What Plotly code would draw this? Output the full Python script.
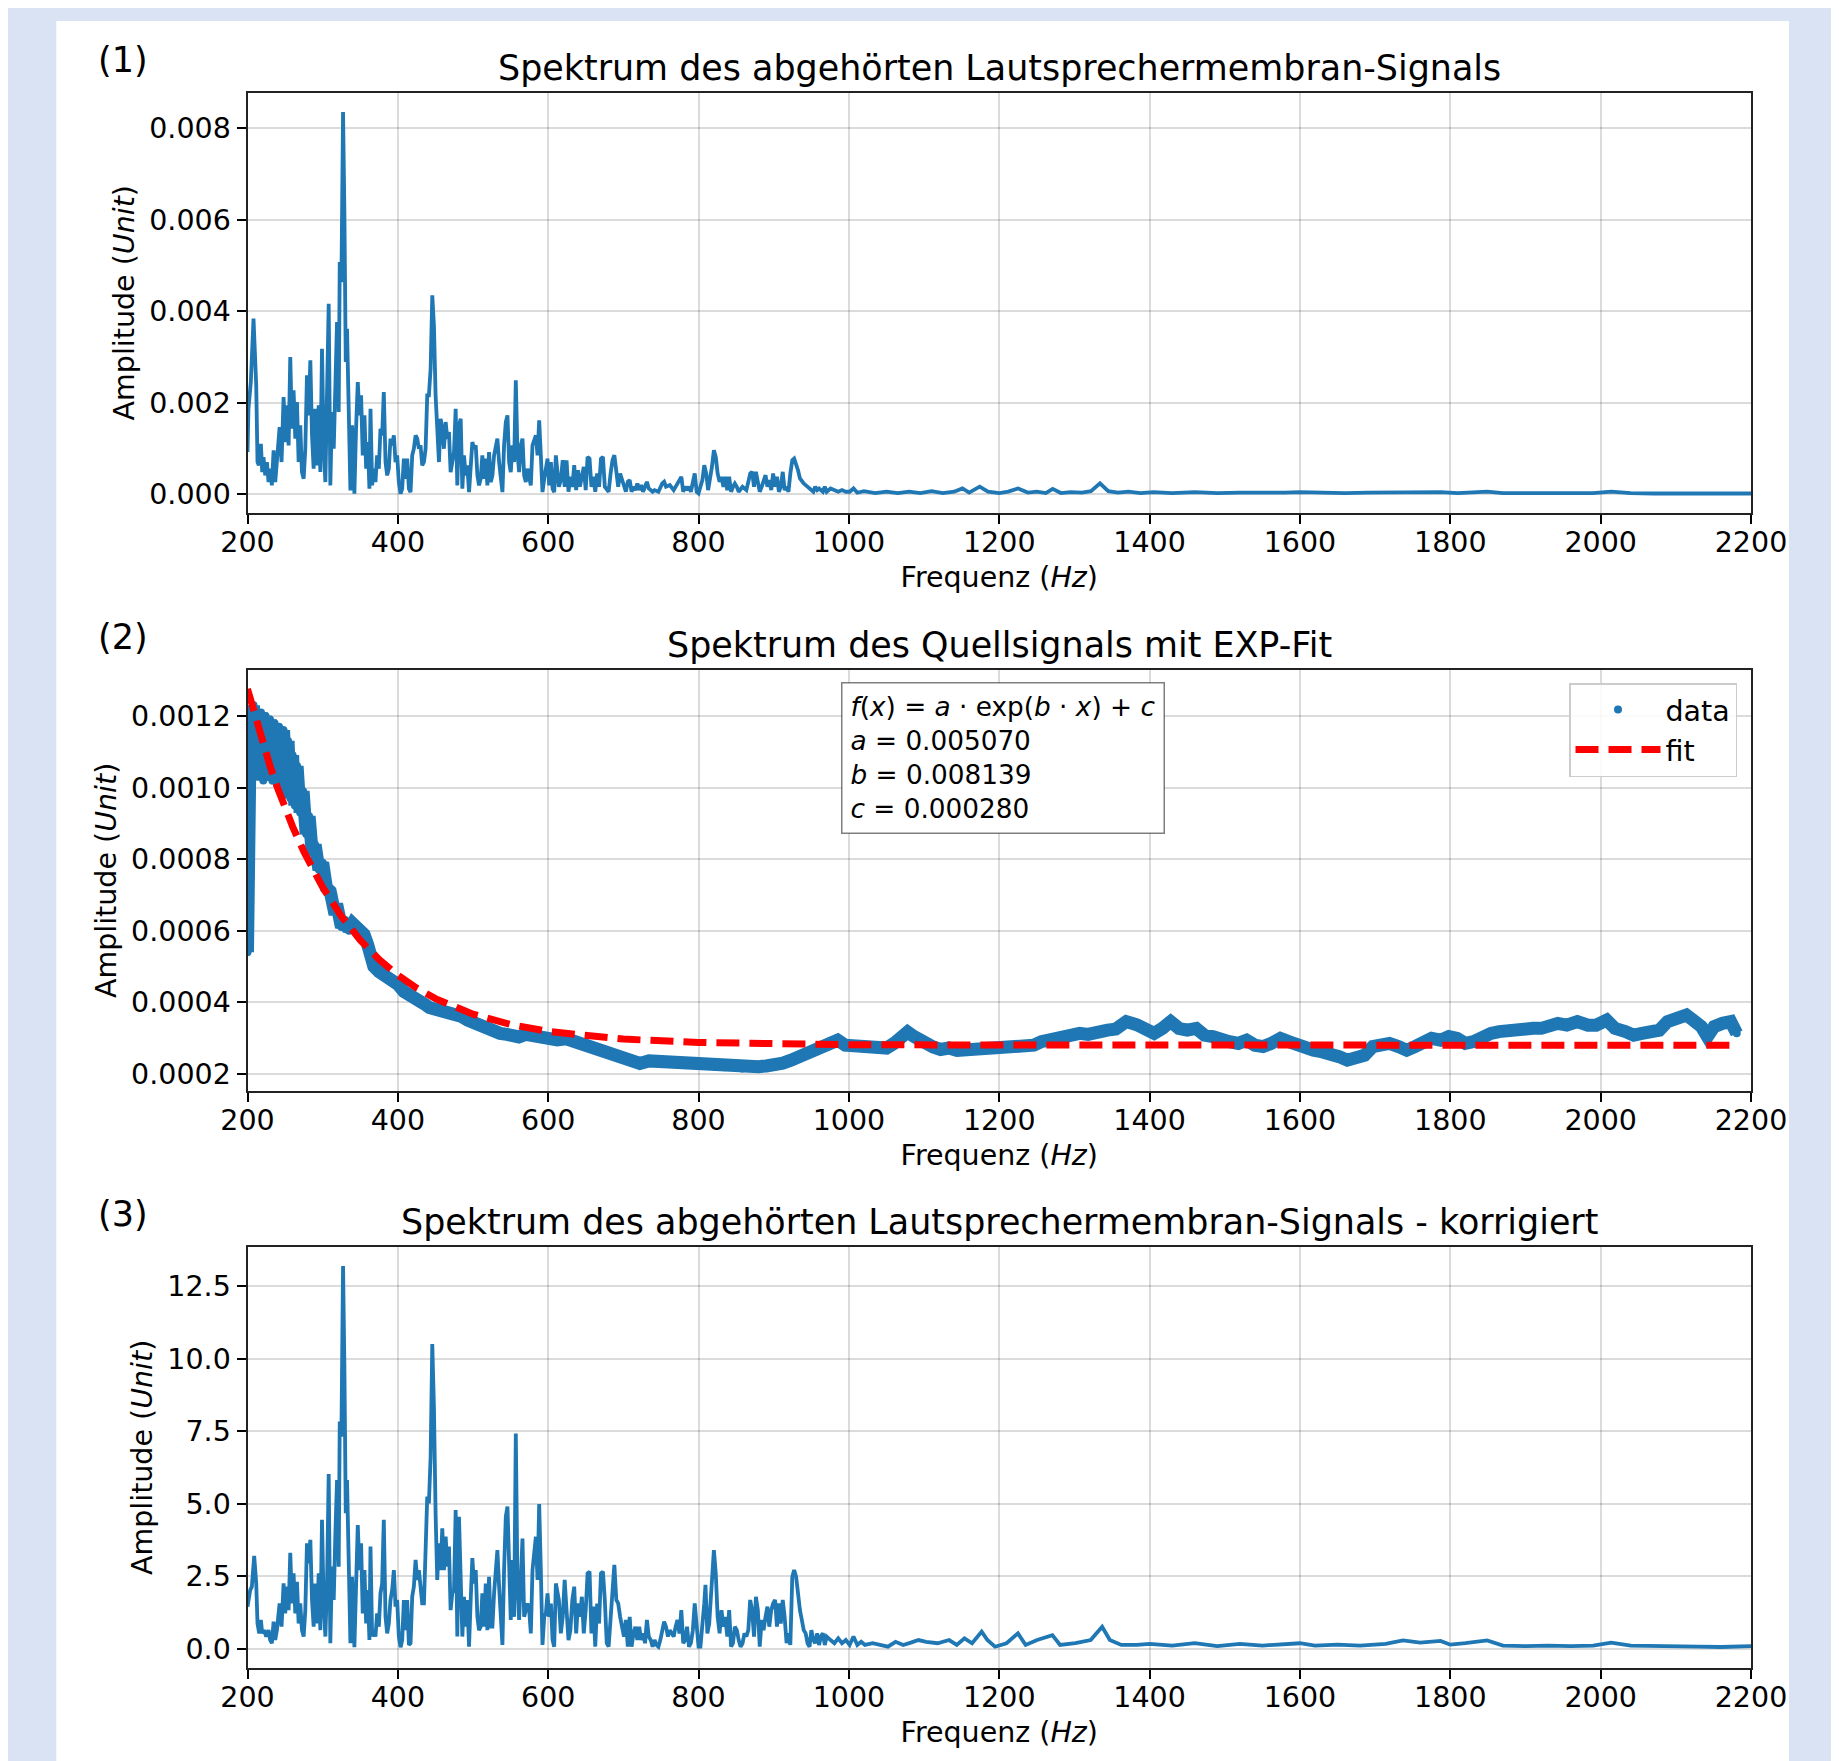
import plotly.graph_objects as go

# the page is rendered with an 8px body margin; size the figure so it fits the window exactly
OFFSET = 8
W, H = 1839 - OFFSET, 1761 - OFFSET

# ---------------- data ----------------
# (1) raw loudspeaker-membrane spectrum: (frequency Hz, amplitude)
RAW_SPECTRUM = [
    (200.0, 0.925e-3), (201.3, 1.872e-3), (204.4, 2.455e-3), (208.0, 3.840e-3), (211.6, 2.382e-3),
    (213.3, 0.707e-3), (215.1, 0.634e-3), (217.8, 1.107e-3), (219.6, 0.488e-3), (221.3, 0.816e-3),
    (223.6, 0.415e-3), (225.8, 0.707e-3), (228.0, 0.270e-3), (230.2, 0.561e-3), (232.4, 0.197e-3),
    (234.7, 0.962e-3), (236.9, 0.270e-3), (239.1, 0.780e-3), (242.7, 1.472e-3), (245.3, 0.707e-3),
    (248.0, 2.128e-3), (250.2, 1.144e-3), (252.4, 1.945e-3), (254.7, 1.071e-3), (256.9, 3.002e-3),
    (259.1, 1.435e-3), (261.3, 2.273e-3), (263.6, 1.217e-3), (265.8, 2.018e-3), (268.0, 0.707e-3),
    (270.2, 1.508e-3), (272.4, 0.488e-3), (274.7, 0.342e-3), (276.9, 0.998e-3), (279.1, 2.601e-3),
    (281.3, 1.727e-3), (283.6, 2.929e-3), (285.8, 1.290e-3), (288.0, 0.561e-3), (290.2, 1.872e-3),
    (292.4, 0.634e-3), (294.7, 1.945e-3), (296.9, 0.488e-3), (299.1, 3.184e-3), (301.3, 1.071e-3),
    (303.6, 0.270e-3), (305.8, 1.872e-3), (308.0, 4.168e-3), (310.2, 0.197e-3), (312.4, 1.800e-3),
    (314.7, 0.998e-3), (316.9, 2.601e-3), (319.1, 3.767e-3), (321.3, 1.800e-3), (322.7, 5.078e-3),
    (324.9, 4.641e-3), (327.1, 8.357e-3), (328.9, 6.171e-3), (330.7, 2.893e-3), (332.4, 3.621e-3),
    (334.7, 1.508e-3), (336.9, 0.087e-3), (339.1, 1.508e-3), (342.2, 0.015e-3), (344.4, 1.435e-3),
    (346.7, 2.455e-3), (348.9, 1.727e-3), (351.1, 2.164e-3), (353.3, 0.852e-3), (355.6, 1.727e-3),
    (357.8, 0.561e-3), (360.0, 1.144e-3), (362.2, 0.124e-3), (363.6, 1.872e-3), (365.8, 0.197e-3),
    (368.0, 0.561e-3), (370.2, 0.270e-3), (372.4, 0.852e-3), (374.7, 0.561e-3), (376.9, 1.435e-3),
    (379.1, 1.290e-3), (381.3, 2.237e-3), (383.6, 0.707e-3), (385.8, 0.415e-3), (388.0, 0.561e-3),
    (390.2, 1.217e-3), (392.4, 1.071e-3), (394.7, 1.290e-3), (396.9, 0.707e-3), (399.1, 0.852e-3),
    (401.3, 0.270e-3), (403.6, 0.015e-3), (405.8, 0.124e-3), (408.0, 0.780e-3), (410.2, 0.342e-3),
    (412.4, 0.780e-3), (414.7, 0.124e-3), (416.9, 0.051e-3), (419.1, 0.852e-3), (421.3, 0.998e-3),
    (423.6, 1.290e-3), (425.8, 1.217e-3), (428.0, 0.998e-3), (430.2, 1.071e-3), (432.4, 0.634e-3),
    (434.7, 0.707e-3), (436.9, 0.998e-3), (439.1, 2.164e-3), (441.3, 2.164e-3), (443.6, 2.747e-3),
    (445.8, 4.350e-3), (448.0, 3.694e-3), (450.2, 2.164e-3), (452.4, 1.435e-3), (454.7, 0.707e-3),
    (456.9, 1.654e-3), (459.1, 1.435e-3), (461.3, 0.998e-3), (463.6, 1.581e-3), (465.8, 1.217e-3),
    (468.0, 1.362e-3), (470.2, 0.488e-3), (472.4, 0.707e-3), (474.7, 0.925e-3), (476.9, 1.872e-3),
    (479.1, 0.197e-3), (481.3, 1.500e-3), (483.6, 1.654e-3), (485.8, 0.124e-3), (488.0, 0.852e-3),
    (490.2, 0.415e-3), (492.4, 0.634e-3), (494.7, 0.051e-3), (496.9, 0.707e-3), (499.1, 1.144e-3),
    (501.3, 0.998e-3), (503.6, 1.071e-3), (505.8, 0.415e-3), (508.0, 0.197e-3), (510.2, 0.342e-3),
    (512.4, 0.852e-3), (514.7, 0.342e-3), (516.9, 0.780e-3), (519.1, 0.197e-3), (521.3, 0.925e-3),
    (523.6, 0.270e-3), (525.8, 0.415e-3), (528.0, 0.852e-3), (530.2, 0.998e-3), (532.4, 1.217e-3),
    (534.7, 0.707e-3), (536.9, 0.270e-3), (539.1, 0.051e-3), (541.3, 1.071e-3), (543.6, 1.581e-3),
    (545.8, 1.727e-3), (548.0, 0.707e-3), (550.2, 0.488e-3), (552.4, 1.071e-3), (554.7, 0.707e-3),
    (556.9, 2.492e-3), (559.1, 0.925e-3), (561.3, 0.488e-3), (563.6, 1.071e-3), (565.8, 1.217e-3),
    (568.0, 0.415e-3), (570.2, 0.270e-3), (572.4, 0.561e-3), (574.7, 0.342e-3), (576.9, 0.197e-3),
    (579.1, 1.071e-3), (581.3, 1.217e-3), (583.6, 1.290e-3), (585.8, 0.852e-3), (588.0, 1.617e-3),
    (590.2, 0.852e-3), (592.4, 0.051e-3), (594.7, 0.342e-3), (596.9, 0.561e-3), (599.1, 0.780e-3),
    (601.3, 0.197e-3), (603.6, 0.707e-3), (605.8, 0.124e-3), (608.0, 0.051e-3), (610.2, 0.852e-3),
    (614.2, 0.167e-3), (616.8, 0.312e-3), (619.3, 0.746e-3), (621.9, 0.167e-3), (624.4, 0.746e-3),
    (627.0, 0.058e-3), (629.5, 0.384e-3), (632.1, 0.167e-3), (634.6, 0.638e-3), (637.2, 0.094e-3),
    (639.7, 0.529e-3), (642.2, 0.167e-3), (644.8, 0.457e-3), (647.3, 0.601e-3), (649.9, 0.094e-3),
    (652.4, 0.819e-3), (655.0, 0.783e-3), (657.5, 0.167e-3), (660.1, 0.384e-3), (662.6, 0.058e-3),
    (665.1, 0.457e-3), (667.7, 0.167e-3), (670.2, 0.783e-3), (672.8, 0.819e-3), (675.3, 0.167e-3),
    (677.9, 0.094e-3), (680.4, 0.058e-3), (683.0, 0.457e-3), (685.5, 0.746e-3), (688.0, 0.855e-3),
    (690.6, 0.457e-3), (693.1, 0.167e-3), (695.7, 0.457e-3), (698.2, 0.312e-3), (700.8, 0.167e-3),
    (703.3, 0.058e-3), (705.9, 0.275e-3), (708.4, 0.312e-3), (710.9, 0.058e-3), (713.5, 0.167e-3),
    (716.0, 0.094e-3), (718.6, 0.239e-3), (721.1, 0.094e-3), (723.7, 0.203e-3), (726.2, 0.058e-3),
    (728.8, 0.203e-3), (731.3, 0.275e-3), (733.8, 0.130e-3), (736.4, 0.094e-3), (738.9, 0.058e-3),
    (741.5, 0.094e-3), (746.6, 0.058e-3), (751.7, 0.239e-3), (754.2, 0.275e-3), (756.7, 0.167e-3),
    (761.8, 0.203e-3), (766.9, 0.094e-3), (769.5, 0.167e-3), (774.6, 0.348e-3), (777.1, 0.384e-3),
    (779.6, 0.058e-3), (782.2, 0.167e-3), (784.7, 0.094e-3), (787.3, 0.167e-3), (789.8, 0.058e-3),
    (792.4, 0.312e-3), (794.9, 0.457e-3), (797.5, 0.058e-3), (800.0, 0.022e-3), (802.5, 0.167e-3),
    (805.1, 0.312e-3), (807.6, 0.638e-3), (810.2, 0.457e-3), (812.7, 0.094e-3), (815.3, 0.312e-3),
    (817.8, 0.601e-3), (820.4, 0.964e-3), (822.9, 0.819e-3), (825.4, 0.457e-3), (828.0, 0.275e-3),
    (830.5, 0.384e-3), (833.1, 0.167e-3), (835.6, 0.384e-3), (838.2, 0.094e-3), (840.7, 0.384e-3),
    (843.3, 0.058e-3), (845.8, 0.167e-3), (848.3, 0.239e-3), (850.9, 0.167e-3), (853.4, 0.058e-3),
    (858.5, 0.167e-3), (863.6, 0.094e-3), (866.2, 0.275e-3), (868.7, 0.457e-3), (871.2, 0.493e-3),
    (873.8, 0.167e-3), (876.3, 0.493e-3), (878.9, 0.312e-3), (881.4, 0.058e-3), (884.0, 0.167e-3),
    (889.1, 0.420e-3), (891.6, 0.167e-3), (894.1, 0.312e-3), (896.7, 0.094e-3), (899.2, 0.457e-3),
    (901.8, 0.167e-3), (904.3, 0.384e-3), (906.9, 0.058e-3), (909.4, 0.167e-3), (912.0, 0.493e-3),
    (914.5, 0.094e-3), (917.1, 0.167e-3), (919.6, 0.058e-3), (922.1, 0.457e-3), (924.7, 0.746e-3),
    (927.2, 0.783e-3), (929.8, 0.674e-3), (932.3, 0.529e-3), (934.9, 0.348e-3), (937.4, 0.275e-3),
    (939.9, 0.239e-3), (942.5, 0.203e-3), (945.0, 0.167e-3), (950.1, 0.094e-3), (952.7, 0.058e-3),
    (955.2, 0.167e-3), (957.8, 0.094e-3), (960.3, 0.130e-3), (965.4, 0.058e-3), (967.9, 0.167e-3),
    (970.5, 0.058e-3), (975.6, 0.130e-3), (980.7, 0.094e-3), (985.8, 0.058e-3), (990.8, 0.094e-3),
    (995.9, 0.058e-3), (1001.0, 0.058e-3), (1006.1, 0.130e-3), (1011.2, 0.036e-3), (1020, 0.07e-3),
    (1035, 0.03e-3), (1050, 0.06e-3), (1065, 0.03e-3), (1080, 0.06e-3), (1095, 0.03e-3),
    (1110, 0.07e-3), (1125, 0.03e-3), (1140, 0.06e-3), (1151, 0.13e-3), (1160, 0.04e-3),
    (1174, 0.17e-3), (1185, 0.06e-3), (1200, 0.03e-3), (1212, 0.06e-3), (1225, 0.13e-3),
    (1238, 0.04e-3), (1250, 0.06e-3), (1262, 0.03e-3), (1271, 0.12e-3), (1282, 0.03e-3),
    (1295, 0.05e-3), (1310, 0.04e-3), (1322, 0.07e-3), (1334, 0.24e-3), (1345, 0.07e-3),
    (1358, 0.04e-3), (1372, 0.06e-3), (1388, 0.03e-3), (1405, 0.05e-3), (1430, 0.03e-3),
    (1460, 0.05e-3), (1490, 0.03e-3), (1520, 0.04e-3), (1550, 0.03e-3), (1580, 0.04e-3),
    (1600, 0.05e-3), (1630, 0.03e-3), (1660, 0.03e-3), (1690, 0.04e-3), (1714, 0.04e-3),
    (1737, 0.06e-3), (1760, 0.04e-3), (1787, 0.05e-3), (1810, 0.03e-3), (1849, 0.06e-3),
    (1870, 0.03e-3), (1900, 0.03e-3), (1930, 0.03e-3), (1960, 0.02e-3), (1990, 0.03e-3),
    (2014, 0.06e-3), (2040, 0.03e-3), (2070, 0.02e-3), (2100, 0.02e-3), (2130, 0.02e-3),
    (2160, 0.02e-3), (2200, 0.02e-3),
]

# (2) source-signal spectrum (data points)
SOURCE_SPECTRUM = [
    (200, 5.4e-4), (201, 8.5e-4), (202, 11.0e-4), (204, 12.2e-4), (206, 10.4e-4), (208, 12.3e-4),
    (210, 10.3e-4), (212, 12.0e-4), (215, 10.4e-4), (218, 12.1e-4), (221, 10.2e-4), (224, 12.0e-4),
    (227, 10.3e-4), (230, 11.9e-4), (233, 10.2e-4), (236, 11.8e-4), (239, 10.1e-4), (242, 11.7e-4),
    (245, 10.0e-4), (248, 11.6e-4), (251, 9.9e-4), (254, 11.3e-4), (257, 9.7e-4), (260, 10.9e-4),
    (263, 9.5e-4), (266, 10.6e-4), (270, 9.3e-4), (274, 9.9e-4), (278, 8.7e-4), (282, 9.2e-4),
    (286, 8.2e-4), (290, 8.4e-4), (295, 7.7e-4), (300, 7.9e-4), (305, 7.2e-4), (310, 7.1e-4),
    (315, 6.6e-4), (320, 6.6e-4), (325, 6.1e-4), (330, 6.3e-4), (335, 6.0e-4), (340, 6.2e-4),
    (345, 6.1e-4), (350, 6.0e-4), (355, 5.9e-4), (360, 5.6e-4), (364, 5.1e-4), (368, 5.0e-4),
    (375, 4.85e-4), (383, 4.75e-4), (392, 4.6e-4), (400, 4.5e-4), (408, 4.3e-4), (417, 4.15e-4),
    (425, 4.05e-4), (434, 3.97e-4), (442, 3.85e-4), (451, 3.8e-4), (460, 3.72e-4), (468, 3.75e-4),
    (476, 3.68e-4), (485, 3.6e-4), (493, 3.5e-4), (502, 3.42e-4), (510, 3.3e-4), (518, 3.25e-4),
    (527, 3.2e-4), (536, 3.13e-4), (545, 3.1e-4), (553, 3.05e-4), (561, 3.03e-4), (570, 3.1e-4),
    (580, 3.05e-4), (590, 3.0e-4), (600, 3.03e-4), (612, 2.95e-4), (624, 2.98e-4), (635, 2.9e-4),
    (646, 2.85e-4), (657, 2.8e-4), (668, 2.7e-4), (680, 2.57e-4), (690, 2.48e-4), (700, 2.42e-4),
    (711, 2.35e-4), (722, 2.29e-4), (734, 2.36e-4), (747, 2.34e-4), (760, 2.31e-4), (772, 2.28e-4),
    (785, 2.3e-4), (798, 2.24e-4), (810, 2.22e-4), (822, 2.2e-4), (834, 2.18e-4), (846, 2.2e-4),
    (858, 2.15e-4), (870, 2.2e-4), (880, 2.2e-4), (890, 2.22e-4), (900, 2.24e-4), (912, 2.3e-4),
    (923, 2.38e-4), (934, 2.48e-4), (945, 2.58e-4), (956, 2.67e-4), (968, 2.75e-4), (977, 2.85e-4),
    (985, 2.94e-4), (995, 2.8e-4), (1003, 2.78e-4), (1010, 2.75e-4), (1020, 2.78e-4), (1030, 2.72e-4),
    (1040, 2.76e-4), (1050, 2.72e-4), (1060, 2.85e-4), (1070, 3.0e-4), (1078, 3.17e-4), (1086, 3.05e-4),
    (1095, 2.92e-4), (1104, 2.8e-4), (1112, 2.75e-4), (1122, 2.68e-4), (1133, 2.72e-4), (1144, 2.65e-4),
    (1154, 2.66e-4), (1165, 2.72e-4), (1175, 2.68e-4), (1185, 2.75e-4), (1195, 2.7e-4), (1205, 2.71e-4),
    (1215, 2.78e-4), (1225, 2.74e-4), (1235, 2.82e-4), (1246, 2.8e-4), (1256, 2.9e-4), (1266, 2.95e-4),
    (1276, 2.92e-4), (1287, 3.02e-4), (1297, 3.05e-4), (1307, 3.13e-4), (1318, 3.1e-4), (1333, 3.22e-4),
    (1344, 3.22e-4), (1355, 3.25e-4), (1369, 3.46e-4), (1383, 3.37e-4), (1394, 3.27e-4), (1406, 3.13e-4),
    (1417, 3.27e-4), (1428, 3.46e-4), (1439, 3.27e-4), (1450, 3.22e-4), (1462, 3.27e-4), (1473, 3.08e-4),
    (1484, 3.04e-4), (1495, 2.94e-4), (1506, 2.9e-4), (1518, 2.85e-4), (1529, 2.94e-4), (1540, 2.8e-4),
    (1551, 2.76e-4), (1562, 2.85e-4), (1574, 2.99e-4), (1585, 2.9e-4), (1596, 2.8e-4), (1607, 2.71e-4),
    (1618, 2.66e-4), (1630, 2.61e-4), (1641, 2.57e-4), (1652, 2.48e-4), (1663, 2.38e-4), (1675, 2.43e-4),
    (1686, 2.52e-4), (1697, 2.76e-4), (1708, 2.8e-4), (1719, 2.85e-4), (1731, 2.76e-4), (1742, 2.66e-4),
    (1753, 2.76e-4), (1764, 2.9e-4), (1775, 2.99e-4), (1787, 2.94e-4), (1798, 3.04e-4), (1809, 2.99e-4),
    (1820, 2.85e-4), (1831, 2.9e-4), (1843, 3.04e-4), (1854, 3.13e-4), (1865, 3.18e-4), (1876, 3.22e-4),
    (1887, 3.22e-4), (1899, 3.22e-4), (1910, 3.27e-4), (1921, 3.27e-4), (1932, 3.34e-4), (1943, 3.41e-4),
    (1955, 3.36e-4), (1969, 3.46e-4), (1983, 3.36e-4), (1994, 3.36e-4), (2008, 3.5e-4), (2019, 3.27e-4),
    (2033, 3.18e-4), (2044, 3.08e-4), (2055, 3.13e-4), (2067, 3.13e-4), (2078, 3.22e-4), (2089, 3.46e-4),
    (2100, 3.5e-4), (2114, 3.64e-4), (2123, 3.5e-4), (2134, 3.32e-4), (2142, 3.04e-4), (2151, 3.32e-4),
    (2162, 3.41e-4), (2173, 3.46e-4), (2181, 3.13e-4),
]

# (2) exponential fit curve
FIT_CURVE = [
    (200, 12.756e-4), (210, 11.978e-4), (220, 11.261e-4), (230, 10.600e-4), (240, 9.990e-4),
    (250, 9.428e-4), (260, 8.910e-4), (275, 8.208e-4), (290, 7.586e-4), (300, 7.212e-4),
    (325, 6.399e-4), (350, 5.737e-4), (375, 5.196e-4), (400, 4.755e-4), (425, 4.395e-4),
    (450, 4.101e-4), (500, 3.666e-4), (550, 3.377e-4), (600, 3.184e-4), (650, 3.056e-4),
    (700, 2.970e-4), (800, 2.875e-4), (900, 2.833e-4), (1000, 2.815e-4), (1200, 2.803e-4),
    (1400, 2.800e-4), (1600, 2.800e-4), (1800, 2.800e-4), (2000, 2.800e-4), (2181, 2.800e-4),
]
FIT_PARAMS = [("a", "0.005070"), ("b", "0.008139"), ("c", "0.000280")]

# (3) corrected spectrum
CORRECTED_SPECTRUM = [
    (200.0, 1.46), (203.6, 2.03), (205.8, 2.15), (208.9, 3.21), (211.6, 2.26), (213.3, 0.88),
    (215.6, 0.54), (217.8, 1.00), (219.6, 0.54), (222.2, 0.65), (224.9, 0.43), (228.0, 0.65),
    (230.2, 0.31), (232.4, 0.20), (234.7, 0.94), (236.9, 0.31), (239.1, 0.65), (242.7, 1.57),
    (245.3, 0.77), (248.0, 2.26), (250.2, 1.23), (252.4, 2.15), (254.7, 1.34), (256.9, 3.32),
    (259.1, 1.57), (261.3, 2.61), (263.6, 1.23), (265.8, 2.32), (268.0, 0.88), (270.2, 1.57),
    (272.4, 0.65), (274.7, 0.43), (276.9, 1.34), (279.1, 3.64), (281.3, 2.95), (283.6, 3.76),
    (285.8, 1.69), (288.0, 0.77), (290.2, 2.26), (292.4, 0.88), (294.7, 2.61), (296.9, 0.65),
    (299.1, 4.45), (301.3, 1.57), (303.6, 0.43), (305.8, 2.26), (308.0, 6.03), (310.2, 0.20),
    (312.4, 2.84), (314.7, 1.69), (316.9, 3.99), (319.1, 5.82), (321.3, 2.84), (322.7, 7.84),
    (324.9, 7.32), (327.1, 13.20), (328.9, 9.73), (330.7, 4.68), (332.4, 5.82), (334.7, 2.26),
    (336.9, 0.20), (339.1, 2.49), (342.2, 0.06), (344.4, 2.15), (346.7, 4.27), (348.9, 2.72),
    (351.1, 3.64), (353.3, 1.23), (355.6, 2.72), (357.8, 0.88), (360.0, 2.03), (362.2, 0.31),
    (363.6, 3.53), (365.8, 0.43), (368.0, 0.65), (370.2, 0.43), (372.4, 1.23), (374.7, 0.77),
    (376.9, 1.92), (379.1, 2.26), (381.3, 4.45), (383.6, 1.11), (385.8, 0.54), (388.0, 0.88),
    (390.2, 1.69), (392.4, 2.03), (394.7, 2.72), (396.9, 1.46), (399.1, 1.69), (401.3, 0.43),
    (403.6, 0.06), (405.8, 0.31), (408.0, 1.69), (410.2, 0.65), (412.4, 1.69), (414.7, 0.14),
    (416.9, 0.20), (419.1, 1.80), (421.3, 2.15), (423.6, 3.07), (425.8, 2.38), (428.0, 2.72),
    (430.2, 2.03), (432.4, 1.57), (434.7, 1.57), (436.9, 3.64), (439.1, 5.25), (441.3, 5.02),
    (443.6, 6.63), (445.8, 10.51), (448.0, 8.35), (450.2, 4.68), (452.4, 2.38), (454.7, 3.64),
    (456.9, 2.72), (459.1, 4.16), (461.3, 2.72), (463.6, 3.87), (465.8, 2.84), (468.0, 3.53),
    (470.2, 1.34), (472.4, 1.92), (474.7, 2.03), (476.9, 4.79), (479.1, 0.43), (481.3, 4.56),
    (483.6, 2.72), (485.8, 0.43), (488.0, 1.80), (490.2, 0.77), (492.4, 1.69), (494.7, 0.08),
    (496.9, 1.69), (499.1, 3.13), (501.3, 2.26), (503.6, 2.72), (505.8, 1.11), (508.0, 0.65),
    (510.2, 0.77), (512.4, 1.92), (514.7, 0.77), (516.9, 2.26), (519.1, 0.65), (521.3, 2.49),
    (523.6, 0.77), (525.8, 0.77), (528.0, 1.92), (530.2, 2.72), (532.4, 3.41), (534.7, 2.15),
    (536.9, 0.88), (539.1, 0.14), (541.3, 2.72), (543.6, 4.56), (545.8, 4.91), (548.0, 2.26),
    (550.2, 1.00), (552.4, 3.07), (554.7, 1.11), (556.9, 7.43), (559.1, 2.26), (561.3, 1.00),
    (563.6, 2.72), (565.8, 3.81), (568.0, 1.11), (570.2, 1.34), (572.4, 1.57), (574.7, 1.34),
    (576.9, 0.54), (579.1, 2.72), (581.3, 3.18), (583.6, 3.87), (585.8, 2.38), (588.0, 5.00),
    (590.2, 2.72), (592.4, 0.14), (594.7, 1.11), (596.9, 1.23), (599.1, 1.92), (601.3, 1.11),
    (603.6, 1.57), (605.8, 0.31), (608.0, 0.08), (610.2, 2.26), (614.2, 1.69), (616.8, 0.54),
    (619.3, 1.11), (621.9, 2.38), (624.4, 1.34), (627.0, 0.31), (629.5, 0.65), (632.1, 1.69),
    (634.6, 2.15), (637.2, 0.54), (639.7, 1.57), (642.2, 1.11), (644.8, 1.80), (647.3, 0.54),
    (649.9, 1.34), (652.4, 2.61), (655.0, 2.67), (657.5, 0.54), (660.1, 1.46), (662.6, 0.08),
    (665.1, 1.57), (667.7, 0.88), (670.2, 2.61), (672.8, 2.67), (675.3, 1.69), (677.9, 0.20),
    (680.4, 0.08), (683.0, 1.11), (685.5, 1.80), (688.0, 2.90), (690.6, 1.69), (693.1, 1.57),
    (695.7, 1.11), (698.2, 0.77), (700.8, 0.43), (703.3, 1.00), (705.9, 0.08), (708.4, 1.11),
    (710.9, 0.08), (713.5, 0.54), (716.0, 0.77), (718.6, 0.31), (721.1, 0.77), (723.7, 0.31),
    (726.2, 0.54), (728.8, 0.20), (731.3, 1.00), (733.8, 0.43), (736.4, 0.31), (738.9, 0.08),
    (741.5, 0.31), (744.0, 0.14), (746.6, 0.08), (749.1, 0.31), (751.7, 0.65), (754.2, 0.94),
    (756.7, 0.77), (759.3, 0.43), (761.8, 0.65), (764.4, 0.54), (766.9, 0.43), (769.5, 0.77),
    (772.0, 1.00), (774.6, 0.54), (777.1, 1.34), (779.6, 0.20), (782.2, 0.31), (784.7, 0.77),
    (787.3, 0.08), (789.8, 0.20), (792.4, 0.65), (794.9, 1.57), (797.5, 0.88), (800.0, 0.08),
    (802.5, 0.08), (805.1, 0.77), (807.6, 1.57), (809.2, 2.21), (811.7, 0.54), (814.2, 0.88),
    (817.8, 2.15), (820.4, 3.41), (822.9, 2.61), (825.4, 1.11), (828.0, 0.54), (830.5, 1.34),
    (833.1, 0.77), (835.6, 1.11), (838.2, 0.43), (840.7, 1.34), (843.3, 0.08), (845.8, 0.20),
    (848.3, 0.77), (850.9, 0.65), (853.4, 0.31), (855.9, 0.08), (858.5, 0.20), (861.1, 0.54),
    (863.6, 0.43), (866.2, 0.65), (868.7, 1.69), (871.2, 1.34), (873.8, 0.43), (876.3, 1.80),
    (878.9, 1.34), (881.4, 0.08), (884.0, 1.00), (886.5, 0.65), (889.1, 1.11), (891.6, 1.46),
    (894.1, 0.77), (896.7, 1.34), (899.2, 1.57), (901.8, 1.69), (904.3, 0.77), (906.9, 1.57),
    (909.4, 0.88), (912.0, 1.69), (914.5, 1.11), (917.1, 0.20), (919.6, 0.54), (922.1, 0.14),
    (924.7, 2.49), (927.2, 2.72), (929.8, 2.49), (932.3, 1.80), (934.9, 1.34), (937.4, 1.00),
    (939.9, 0.65), (942.5, 0.54), (945.0, 0.20), (947.6, 0.08), (950.1, 0.65), (952.7, 0.31),
    (955.2, 0.20), (957.8, 0.54), (960.3, 0.14), (962.8, 0.43), (965.4, 0.54), (967.9, 0.14),
    (970.5, 0.43), (975.6, 0.31), (980.7, 0.20), (985.8, 0.37), (990.8, 0.20), (995.9, 0.31),
    (1001.0, 0.14), (1006.1, 0.43), (1011.2, 0.14), (1016.3, 0.25), (1021.4, 0.14), (1031.6, 0.20),
    (1041.7, 0.14), (1051.9, 0.08), (1062.1, 0.25), (1072.3, 0.14), (1082.4, 0.22), (1092.6, 0.31),
    (1102.8, 0.25), (1118.1, 0.20), (1133.3, 0.31), (1143.5, 0.14), (1153.7, 0.37), (1163.9, 0.20),
    (1176.6, 0.60), (1184.2, 0.31), (1194.4, 0.08), (1209.7, 0.20), (1224.9, 0.54), (1235.1, 0.14),
    (1250.4, 0.31), (1270.7, 0.48), (1280.9, 0.14), (1301.3, 0.20), (1321.6, 0.31), (1336.9, 0.77),
    (1347.1, 0.31), (1362.3, 0.14), (1382.7, 0.14), (1400, 0.18), (1430, 0.12), (1460, 0.20),
    (1490, 0.10), (1520, 0.18), (1550, 0.12), (1580, 0.16), (1600, 0.20), (1620, 0.12),
    (1650, 0.15), (1680, 0.12), (1714, 0.18), (1737, 0.30), (1760, 0.22), (1787, 0.28),
    (1800, 0.15), (1820, 0.20), (1849, 0.30), (1870, 0.12), (1900, 0.10), (1930, 0.12),
    (1960, 0.10), (1990, 0.12), (2014, 0.22), (2040, 0.12), (2070, 0.10), (2100, 0.07),
    (2130, 0.08), (2160, 0.07), (2200, 0.10),
]

FREQ_TICKS = [200, 400, 600, 800, 1000, 1200, 1400, 1600, 1800, 2000, 2200]
RAW_TICKS = [0.0, 0.002, 0.004, 0.006, 0.008]
RAW_TICK_TEXT = ["0.000", "0.002", "0.004", "0.006", "0.008"]
SOURCE_TICKS = [0.0002, 0.0004, 0.0006, 0.0008, 0.0010, 0.0012]
SOURCE_TICK_TEXT = ["0.0002", "0.0004", "0.0006", "0.0008", "0.0010", "0.0012"]
CORR_TICKS = [0.0, 2.5, 5.0, 7.5, 10.0, 12.5]
CORR_TICK_TEXT = ["0.0", "2.5", "5.0", "7.5", "10.0", "12.5"]

TITLES = [
    "Spektrum des abgehörten Lautsprechermembran-Signals",
    "Spektrum des Quellsignals mit EXP-Fit",
    "Spektrum des abgehörten Lautsprechermembran-Signals - korrigiert",
]
PANEL_LABELS = ["(1)", "(2)", "(3)"]
X_LABEL = "Frequenz (<i>Hz</i>)"
Y_LABEL = "Amplitude (<i>Unit</i>)"

# ---------------- styling ----------------
FONT = "DejaVu Sans"
BLUE = "#1f77b4"
TICK_SIZE = 28.5
TITLE_SIZE = 34.9


def px_x(x):
    """screen pixel (in the 1839-wide window) -> paper fraction"""
    return (x - OFFSET) / W


def px_y(y):
    return 1 - (y - OFFSET) / H


X_DOMAIN = [px_x(247.5), px_x(1751)]
PANELS = [  # top, bottom (screen pixels) of each plot area
    (92.7, 512.8),
    (670.0, 1090.8),
    (1246.8, 1667.9),
]
Y_RANGES = [[-0.000402, 0.008778], [0.0001525, 0.0013286], [-0.65, 13.86]]
Y_TICKS = [(RAW_TICKS, RAW_TICK_TEXT), (SOURCE_TICKS, SOURCE_TICK_TEXT), (CORR_TICKS, CORR_TICK_TEXT)]

fig = go.Figure()

xs = [p[0] for p in RAW_SPECTRUM]
ys = [p[1] for p in RAW_SPECTRUM]
fig.add_trace(go.Scatter(x=xs, y=ys, mode="lines", line=dict(color=BLUE, width=3.8),
                         showlegend=False, xaxis="x", yaxis="y"))

xs = [p[0] for p in SOURCE_SPECTRUM]
ys = [p[1] for p in SOURCE_SPECTRUM]
fig.add_trace(go.Scatter(x=xs, y=ys, mode="lines", line=dict(color=BLUE, width=13),
                         showlegend=False, hoverinfo="skip", xaxis="x2", yaxis="y2"))
fig.add_trace(go.Scatter(x=xs, y=ys, mode="markers", marker=dict(color=BLUE, size=8),
                         name="data", xaxis="x2", yaxis="y2"))
fx = [p[0] for p in FIT_CURVE]
fy = [p[1] for p in FIT_CURVE]
fig.add_trace(go.Scatter(x=fx, y=fy, mode="lines", line=dict(color="red", width=7, dash="23px,10px"),
                         name="fit", xaxis="x2", yaxis="y2"))

xs = [p[0] for p in CORRECTED_SPECTRUM]
ys = [p[1] for p in CORRECTED_SPECTRUM]
fig.add_trace(go.Scatter(x=xs, y=ys, mode="lines", line=dict(color=BLUE, width=3.8),
                         showlegend=False, xaxis="x3", yaxis="y3"))

layout = dict(
    width=W, height=H,
    margin=dict(l=0, r=0, t=0, b=0, pad=0, autoexpand=False),
    paper_bgcolor="#dae3f3",
    plot_bgcolor="white",
    font=dict(family=FONT, size=TICK_SIZE, color="black"),
    showlegend=True,
    legend=dict(x=px_x(1737), y=px_y(683), xanchor="right", yanchor="top",
                bgcolor="rgba(255,255,255,0.85)", bordercolor="#cccccc", borderwidth=1.5,
                font=dict(family=FONT, size=TICK_SIZE), itemwidth=85, tracegroupgap=0),
    shapes=[dict(type="rect", xref="paper", yref="paper", x0=px_x(56.3), x1=px_x(1789),
                 y0=0, y1=px_y(21), fillcolor="white", line=dict(width=0), layer="below")],
)

annotations = []
for i in range(3):
    top, bot = PANELS[i]
    sfx = "" if i == 0 else str(i + 1)
    layout["xaxis" + sfx] = dict(
        domain=X_DOMAIN, anchor="y" + sfx, range=[200, 2200], automargin=False,
        tickvals=FREQ_TICKS, ticks="outside", ticklen=9, tickwidth=1.8, tickcolor="black",
        showline=True, linecolor="#222222", linewidth=2, mirror=True,
        showgrid=True, gridcolor="rgba(0,0,0,0.14)", gridwidth=1.5, zeroline=False,
        tickfont=dict(family=FONT, size=TICK_SIZE), ticklabelstandoff=-6,
        title=dict(text=X_LABEL, font=dict(family=FONT, size=TICK_SIZE), standoff=9),
    )
    tv, tt = Y_TICKS[i]
    layout["yaxis" + sfx] = dict(
        domain=[px_y(bot), px_y(top)], anchor="x" + sfx, range=Y_RANGES[i], automargin=False,
        tickvals=tv, ticktext=tt, ticks="outside", ticklen=9, tickwidth=1.8, tickcolor="black",
        showline=True, linecolor="#222222", linewidth=2, mirror=True,
        showgrid=True, gridcolor="rgba(0,0,0,0.14)", gridwidth=1.5, zeroline=False,
        tickfont=dict(family=FONT, size=TICK_SIZE), ticklabelstandoff=0,
        title=dict(text=Y_LABEL, font=dict(family=FONT, size=TICK_SIZE), standoff=6),
    )
    annotations.append(dict(text=TITLES[i], xref="paper", yref="paper",
                            x=(X_DOMAIN[0] + X_DOMAIN[1]) / 2, y=px_y(top - 25),
                            xanchor="center", yanchor="middle", showarrow=False,
                            font=dict(family=FONT, size=TITLE_SIZE)))
    annotations.append(dict(text=PANEL_LABELS[i], xref="paper", yref="paper",
                            x=px_x(96), y=px_y(top - 33), xanchor="left", yanchor="middle",
                            showarrow=False, font=dict(family=FONT, size=35)))

fit_lines = ["<i>f</i>(<i>x</i>) = <i>a</i> · exp(<i>b</i> · <i>x</i>) + <i>c</i>"]
for name, val in FIT_PARAMS:
    fit_lines.append("<i>%s</i> = %s" % (name, val))
annotations.append(dict(text="<br>".join(fit_lines), xref="paper", yref="paper",
                        x=px_x(841), y=px_y(682), xanchor="left", yanchor="top", align="left",
                        showarrow=False, bgcolor="white", bordercolor="rgba(0,0,0,0.5)",
                        borderwidth=1.5, borderpad=8, font=dict(family=FONT, size=26.3)))
layout["annotations"] = annotations

fig.update_layout(**layout)
fig.write_html("out.html")
